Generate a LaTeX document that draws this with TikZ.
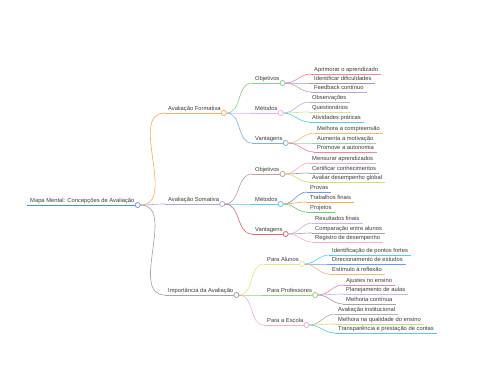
\documentclass[tikz,border=0pt]{standalone}
\usepackage{fontspec}
\setmainfont{Liberation Sans}
\begin{document}
\begin{tikzpicture}[x=1pt,y=-1pt,
  lbl/.style={anchor=south west,inner xsep=3pt,inner ysep=0.9pt,text height=4.4pt,text depth=1.2pt,font=\fontsize{5.8pt}{6pt}\selectfont,text=txt},
  edge/.style={line width=0.65pt},
  dot/.style={circle,fill=white,line width=0.65pt,inner sep=0pt,minimum size=5pt}]
\definecolor{txt}{HTML}{3A3A3A}
\definecolor{cRoot}{HTML}{4A8FD8}
\definecolor{cOrange}{HTML}{F7AE62}
\definecolor{cLav}{HTML}{B3A8DC}
\definecolor{cGray}{HTML}{A4A4A4}
\definecolor{cGreen}{HTML}{8ECE8E}
\definecolor{cViolet}{HTML}{E8B4EA}
\definecolor{cBlue}{HTML}{82B4E0}
\definecolor{cRed}{HTML}{E88A98}
\definecolor{cPurple}{HTML}{9C98E6}
\definecolor{cMauve}{HTML}{BEA8BC}
\definecolor{cGrayLav}{HTML}{BEB6CA}
\definecolor{cYG}{HTML}{D8DE9E}
\definecolor{cCyan}{HTML}{5CCEE4}
\definecolor{cLOrange}{HTML}{F6BA80}
\definecolor{cSGreen}{HTML}{9CD0AE}
\definecolor{cBrown}{HTML}{C0A29A}
\definecolor{cRed2}{HTML}{E46878}
\definecolor{cPink}{HTML}{F2B0D0}
\definecolor{cYG2}{HTML}{D0DE78}
\definecolor{cBlue2}{HTML}{7494E4}
\definecolor{cOr2}{HTML}{F2AE58}
\definecolor{cGreen2}{HTML}{78C878}
\definecolor{cLav2}{HTML}{C8B4E6}
\definecolor{cYellow}{HTML}{E4E48E}
\definecolor{cGreen3}{HTML}{94D084}
\definecolor{cBlue3}{HTML}{649EE4}
\useasboundingbox (0,0) rectangle (480,384);
\newcommand\mmnode[6]{%
  \node[lbl] (#1) at (#3,#4) {#6};
  \draw[edge,#5] (#2) to[out=0,in=180] (#1.south west);
  \draw[edge,#5] (#1.south west) -- (#1.south east);
}
\newcommand\mmdot[2]{\node[dot,draw=#2] (#1c) at (#1.south east) {};}
% root
\node[lbl] (root) at (27,205) {Mapa Mental: Concepções de Avaliação};
\draw[line width=0.8pt,cRoot] (root.south west) -- (root.south east);
\mmdot{root}{cGray!70!cRoot}
% level 1
\mmnode{fo}{rootc.east}{165}{113}{cOrange}{Avaliação Formativa}
\mmnode{so}{rootc.east}{165}{204}{cLav}{Avaliação Somativa}
\mmnode{im}{rootc.east}{165}{295}{cGray}{Importância da Avaliação}
\mmdot{root}{cGray!70!cRoot}
\mmdot{fo}{cOrange}
\mmdot{so}{cLav}
\mmdot{im}{cGray}
% Formativa
\mmnode{foob}{foc.east}{252}{83}{cGreen}{Objetivos}
\mmnode{fome}{foc.east}{252}{113}{cViolet}{Métodos}
\mmnode{fova}{foc.east}{252}{143}{cBlue}{Vantagens}
\mmdot{fo}{cOrange}
\mmdot{foob}{cGreen}
\mmdot{fome}{cViolet}
\mmdot{fova}{cBlue}
\mmnode{l1}{foobc.east}{311}{74}{cRed}{Aprimorar o aprendizado}
\mmnode{l2}{foobc.east}{311}{83}{cPurple}{Identificar dificuldades}
\mmnode{l3}{foobc.east}{311}{92}{cMauve}{Feedback contínuo}
\mmnode{l4}{fomec.east}{309}{102}{cGrayLav}{Observações}
\mmnode{l5}{fomec.east}{309}{112}{cYG}{Questionários}
\mmnode{l6}{fomec.east}{309}{122}{cCyan}{Atividades práticas}
\mmnode{l7}{fovac.east}{314}{133}{cLOrange}{Melhora a compreensão}
\mmnode{l8}{fovac.east}{314}{143}{cSGreen}{Aumenta a motivação}
\mmnode{l9}{fovac.east}{314}{152}{cRed}{Promove a autonomia}
\mmdot{foob}{cGreen}
\mmdot{fome}{cViolet}
\mmdot{fova}{cBlue}
% Somativa
\mmnode{soob}{soc.east}{252}{174}{cBrown}{Objetivos}
\mmnode{some}{soc.east}{252}{204}{cCyan}{Métodos}
\mmnode{sova}{soc.east}{252}{234}{cRed2}{Vantagens}
\mmdot{so}{cLav}
\mmdot{soob}{cBrown}
\mmdot{some}{cCyan}
\mmdot{sova}{cRed2}
\mmnode{m1}{soobc.east}{309}{163}{cPink}{Mensurar aprendizados}
\mmnode{m2}{soobc.east}{309}{173}{cGray}{Certificar conhecimentos}
\mmnode{m3}{soobc.east}{309}{182}{cYG2}{Avaliar desempenho global}
\mmnode{m4}{somec.east}{307}{192}{cBlue2}{Provas}
\mmnode{m5}{somec.east}{307}{202}{cOr2}{Trabalhos finais}
\mmnode{m6}{somec.east}{307}{212}{cGreen2}{Projetos}
\mmnode{m7}{sovac.east}{312}{223}{cLav2}{Resultados finais}
\mmnode{m8}{sovac.east}{312}{233}{cGray}{Comparação entre alunos}
\mmnode{m9}{sovac.east}{312}{242}{cPink}{Registro de desempenho}
\mmdot{soob}{cBrown}
\mmdot{some}{cCyan}
\mmdot{sova}{cRed2}
% Importancia
\mmnode{imal}{imc.east}{264}{264}{cYellow}{Para Alunos}
\mmnode{impr}{imc.east}{264}{295}{cGreen3}{Para Professores}
\mmnode{imes}{imc.east}{264}{325}{cPink}{Para a Escola}
\mmdot{im}{cGray}
\mmdot{imal}{cYellow}
\mmdot{impr}{cGreen3}
\mmdot{imes}{cPink}
\mmnode{n1}{imalc.east}{329}{255}{cCyan}{Identificação de pontos fortes}
\mmnode{n2}{imalc.east}{329}{264}{cBlue3}{Direcionamento de estudos}
\mmnode{n3}{imalc.east}{329}{274}{cLOrange}{Estímulo à reflexão}
\mmnode{n4}{imprc.east}{343}{285}{cRed}{Ajustes no ensino}
\mmnode{n5}{imprc.east}{343}{294}{cLav2}{Planejamento de aulas}
\mmnode{n6}{imprc.east}{343}{304}{cGray}{Melhoria contínua}
\mmnode{n7}{imesc.east}{335}{314}{cGray!85}{Avaliação institucional}
\mmnode{n8}{imesc.east}{335}{324}{cYG2}{Melhora na qualidade do ensino}
\mmnode{n9}{imesc.east}{335}{333}{cCyan}{Transparência e prestação de contas}
\mmdot{imal}{cYellow}
\mmdot{impr}{cGreen3}
\mmdot{imes}{cPink}
\end{tikzpicture}
\end{document}
